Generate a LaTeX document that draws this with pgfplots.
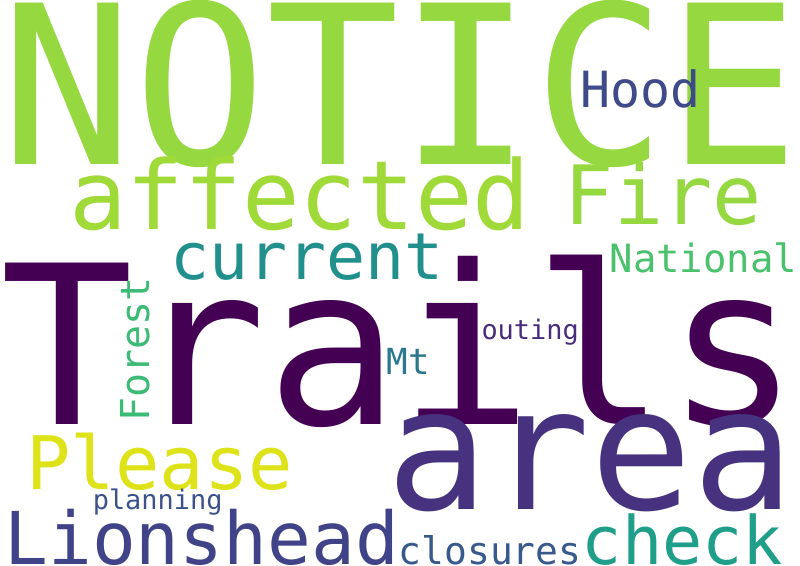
\documentclass[border=0pt]{standalone}
\usepackage{pgfplots}
\pgfplotsset{compat=1.18}
\usepackage{fontspec}
\setmainfont{DejaVu Sans Mono}
\begin{document}
\begin{tikzpicture}
\begin{axis}[scale only axis, width=800bp, height=600bp, xmin=0, xmax=800, ymin=0, ymax=600, axis lines=none, clip=false,
  nodes={inner sep=0pt, anchor=base}]
\newcommand{\w}[6]{\node[text={rgb,255:#5}, rotate=#6] at (axis cs:#1,#2) {\fontsize{#3}{#3}\selectfont #4};}
\w{400}{415}{222}{NOTICE}{red,149;green,216;blue,64}{0}
\w{300}{350}{96}{affected}{red,160;green,218;blue,57}{0}
\w{663}{355}{82}{Fire}{red,149;green,216;blue,64}{0}
\w{640}{472}{50}{Hood}{red,62;green,74;blue,137}{0}
\w{307}{300}{65}{current}{red,33;green,144;blue,141}{0}
\w{400}{155}{222}{Trails}{red,68;green,1;blue,84}{0}
\w{703}{307}{39}{National}{red,74;green,193;blue,109}{0}
\w{530}{240}{27}{outing}{red,71;green,45;blue,123}{0}
\w{408}{205}{36}{Mt}{red,42;green,120;blue,142}{0}
\w{150}{230}{40}{Forest}{red,59;green,187;blue,117}{90}
\w{160}{90}{74}{Please}{red,221;green,227;blue,24}{0}
\w{590}{70}{170}{area}{red,70;green,50;blue,126}{0}
\w{158}{70}{27}{planning}{red,59;green,82;blue,139}{0}
\w{202}{15}{73}{Lionshead}{red,64;green,67;blue,135}{0}
\w{490}{15}{38}{closures}{red,56;green,89;blue,140}{0}
\w{682}{15}{67}{check}{red,31;green,158;blue,137}{0}
\end{axis}
\end{tikzpicture}
\end{document}
